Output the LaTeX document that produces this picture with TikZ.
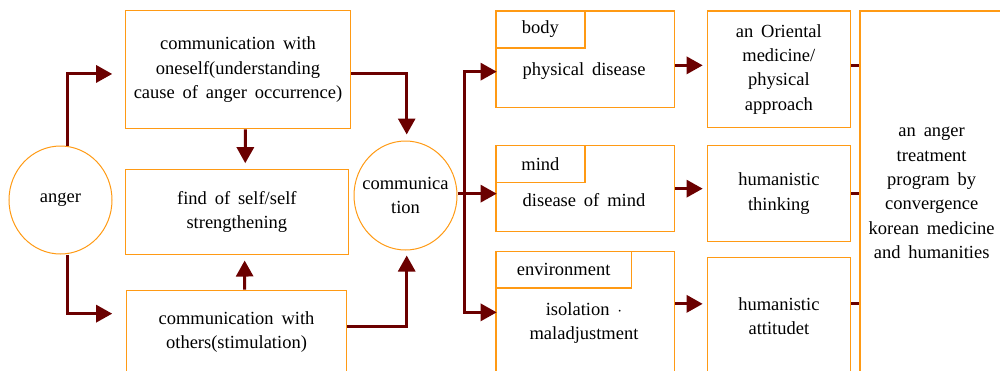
\documentclass[tikz,border=0pt]{standalone}
\usepackage{fontspec}
\setmainfont{Liberation Serif}[WordSpace=1.7]
\usetikzlibrary{arrows.meta,shapes.geometric,calc}
\definecolor{orng}{HTML}{FF9A14}
\definecolor{dred}{HTML}{6B0000}
\begin{document}
\begin{tikzpicture}[x=1pt,y=-1pt,
  box/.style={draw=orng, line width=1.3pt, align=center, inner sep=0pt, anchor=north west},
  circ/.style={draw=orng, line width=1pt, ellipse, inner sep=0pt},
  txt/.style={align=center, inner sep=0pt},
  conn/.style={draw=dred, line width=3pt},
  arr/.style={conn, -{Triangle[length=16pt,width=17pt]}},
  every node/.style={font=\fontsize{18.5}{24.3}\selectfont}]
\useasboundingbox (0,0) rectangle (1000,370);
% left part
\node[circ, minimum width=103, minimum height=108] (anger) at (60.5,200) {};
\node[txt] (angert) at (anger.center) {anger};
\node[box, minimum width=225.3, minimum height=118] (b1) at (124.7,10) {communication with\\oneself(understanding\\cause of anger occurrence)};
\node[box, minimum width=223, minimum height=85] (b2) at (124.7,168.7) {find of self/self\\strengthening};
\node[box, minimum width=220.3, minimum height=84] (b3) at (125.7,289.7) {communication with\\others(stimulation)};
\node[circ, minimum width=103, minimum height=109] (comm) at (405.5,195.5) {};
\node[txt] (commt) at (comm.center) {communica\\tion};
% right part
\node[box, minimum width=178.7, minimum height=96.4] (body) at (495.3,10.3) {};
\node[box, minimum width=89, minimum height=37] (bodyl) at (495.3,10.3) {body};
\node[txt] (bodyt) at (584,71) {physical disease};
\node[box, minimum width=178.7, minimum height=86] (mind) at (495.3,145) {};
\node[box, minimum width=89, minimum height=37] (mindl) at (495.3,145) {mind};
\node[txt] (mindt) at (584,200) {disease of mind};
\node[box, minimum width=178.7, minimum height=123] (env) at (495.3,250.7) {};
\node[box, minimum width=135.4, minimum height=36.6] (envl) at (495.3,250.7) {environment};
\node[txt] (envt) at (584,323) {isolation $\cdot$\\maladjustment};
\node[box, minimum width=143, minimum height=116.7] (ori) at (706.7,10.3) {an Oriental\\medicine/\\physical\\approach};
\node[box, minimum width=143, minimum height=96] (think) at (706.7,145) {humanistic\\thinking};
\node[box, minimum width=143, minimum height=117] (att) at (706.7,257) {humanistic\\attitudet};
\node[box, minimum width=143.4, minimum height=364] (big) at (859.3,10.3) {an anger\\treatment\\program by\\convergence\\korean medicine\\and humanities};
% connectors left
\draw[arr] ([xshift=6.5pt]anger.north) |- ($(b1.west)+(-12.5,4.3)$);
\draw[arr] ([xshift=6.5pt]anger.south) |- ($(b3.west)+(-13.5,-18.7)$);
\draw[arr] ([xshift=7.4pt]b1.south) -- ($(b2.north)+(8.4,-5.5)$);
\draw[arr] ([xshift=8.2pt]b3.north) -- ($(b2.south)+(7.8,5.5)$);
\draw[arr] ([yshift=-4.3pt]b1.east) -| ($(comm.north)+(1.2,-6)$);
\draw[arr] ([yshift=5.7pt]b3.east) -| ($(comm.south)+(1.2,5)$);
% connectors to right column
\coordinate (j) at ($(comm.east)+(7,-2.5)$);
\draw[conn] (comm.east |- j) -- (j);
\draw[arr] (j) |- ($(body.west)+(1.4,12.5)$);
\draw[arr] (j) |- ($(mind.west)+(1.4,5)$);
\draw[arr] (j) |- ($(env.west)+(1.4,-0.5)$);
\draw[conn] ($(j |- body.west)+(0,12.5)$) -- ($(j |- env.west)+(0,-0.5)$);
\draw[arr] ($(body.east)+(0,6.2)$) -- ($(ori.west |- body.east)+(-4,6.2)$);
\draw[arr] (mind.east) -- ($(think.west |- mind.east)+(-4,0)$);
\draw[arr] ($(env.east)+(0,-9)$) -- ($(att.west |- env.east)+(-4,-9)$);
\draw[conn] ($(ori.east |- body.east)+(0,6.2)$) -- ($(big.west |- body.east)+(0,6.2)$);
\draw[conn] (think.east) -- (big.west |- think.east);
\draw[conn] ($(att.east |- env.east)+(0,-9)$) -- ($(big.west |- env.east)+(0,-9)$);
\end{tikzpicture}
\end{document}
